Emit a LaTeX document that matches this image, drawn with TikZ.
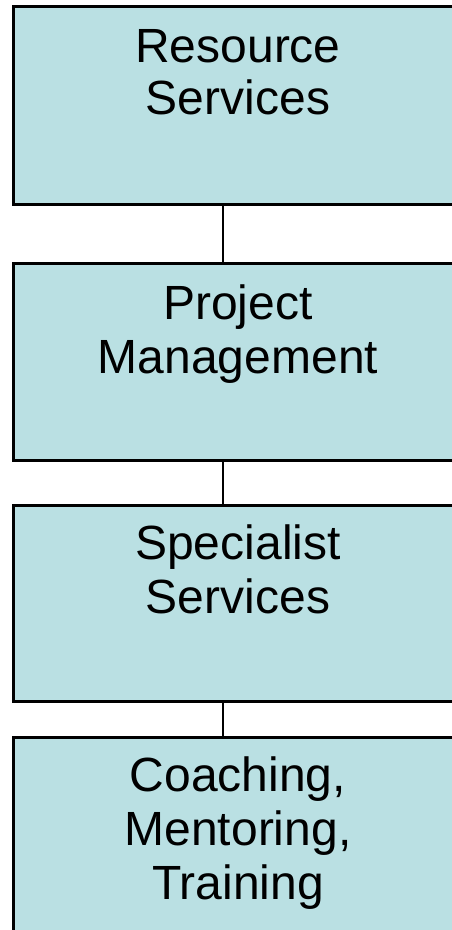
\documentclass[tikz,border=0pt]{standalone}
\usepackage{fontspec}
\setmainfont{Liberation Sans}
\definecolor{boxfill}{RGB}{186,224,227}
\begin{document}
\begin{tikzpicture}[x=1pt,y=-1pt,
  box/.style={draw=black, line width=2.8pt, fill=boxfill, rectangle, inner sep=0pt, anchor=north west},
  label/.style={anchor=base, align=center, inner sep=0pt, font=\fontsize{48}{54}\selectfont},
  link/.style={draw=black, line width=2.4pt}]
\useasboundingbox (0,0) rectangle (452,930);
\node[box, minimum width=452pt, minimum height=198pt] (b1) at (12,5) {};
\node[box, minimum width=452pt, minimum height=197pt] (b2) at (12,262) {};
\node[box, minimum width=452pt, minimum height=196pt] (b3) at (12,504) {};
\node[box, minimum width=452pt, minimum height=210pt] (b4) at (12,736) {};
\coordinate (cx) at (223,0);
\draw[link] (b1.south -| cx) -- (b2.north -| cx);
\draw[link] (b2.south -| cx) -- (b3.north -| cx);
\draw[link] (b3.south -| cx) -- (b4.north -| cx);
\node[label, font=\fontsize{48}{52}\selectfont] (t1) at (238,114) {Resource\\Services};
\node[label] (t2) at (238,373) {Project\\Management};
\node[label] (t3) at (238,613) {Specialist\\Services};
\node[label] (t4) at (238,899) {Coaching,\\Mentoring,\\Training};
\end{tikzpicture}
\end{document}
